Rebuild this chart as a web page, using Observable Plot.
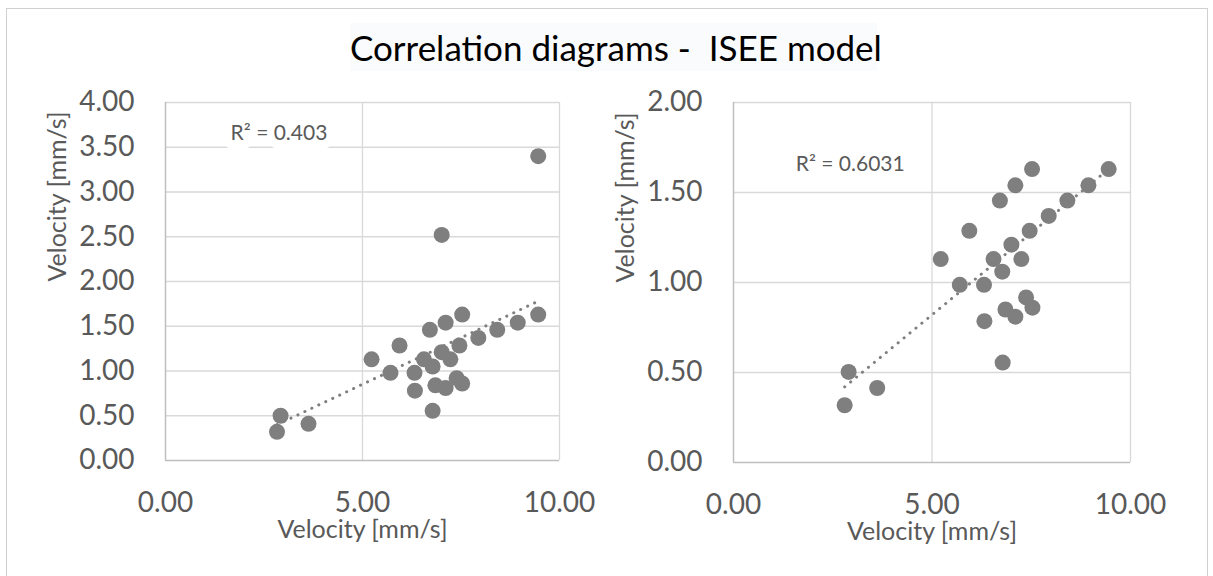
<!DOCTYPE html>
<html>
<head>
<meta charset="utf-8">
<script src="https://cdn.jsdelivr.net/npm/d3@7"></script>
<script src="https://cdn.jsdelivr.net/npm/@observablehq/plot@0.6"></script>
<style>
  html, body { margin: 0; padding: 0; background: #fff; overflow: hidden; }
  #wrap { position: relative; width: 1213px; height: 576px; font-family: Lato, "Open Sans", sans-serif; }
  #border { position: absolute; left: 6px; top: 8px; width: 1200px; height: 620px; border: 1px solid #d0d0d0; }
  #title { position: absolute; left: 350px; top: 23px; width: 527px; height: 48px; background: #fafbfc;
           text-align: center; line-height: 48px; font-size: 35px; color: #000; white-space: pre; }
  .panel { position: absolute; top: 0; }
</style>
</head>
<body>
<div id="wrap">
  <div id="border"></div>
  <div id="title">Correlation diagrams -  ISEE model</div>
  <div id="left" class="panel" style="left:0px"></div>
  <div id="right" class="panel" style="left:606px"></div>
</div>
<script>
// Velocity pairs for the full set (left panel)
const leftX = [9.46, 7.01, 7.53, 7.11, 6.71, 9.46, 8.94, 8.42, 7.94, 7.46, 5.94, 7.01, 7.23, 6.56,
               5.23, 6.78, 6.32, 5.71, 7.39, 7.53, 6.85, 7.11, 6.33, 6.78, 2.92, 2.83, 3.63];
const leftY = [3.40, 2.52, 1.63, 1.54, 1.46, 1.63, 1.54, 1.46, 1.37, 1.285, 1.285, 1.21, 1.13, 1.13,
               1.13, 1.05, 0.98, 0.98, 0.92, 0.86, 0.84, 0.81, 0.78, 0.555, 0.50, 0.32, 0.41];
// Trendline ends for the left panel
const leftTrendX = [2.83, 9.46];
const leftTrendY = [0.40, 1.78];

// Velocity pairs without the two high readings (right panel)
const rightX = [9.45, 7.52, 7.10, 8.94, 6.71, 8.41, 7.94, 5.94, 7.46, 7.00, 5.22, 6.55, 7.25,
                6.77, 5.70, 6.31, 7.37, 7.53, 6.85, 7.10, 6.32, 6.78, 2.90, 3.62, 2.80];
const rightY = [1.63, 1.63, 1.54, 1.54, 1.455, 1.455, 1.37, 1.287, 1.287, 1.21, 1.13, 1.13, 1.13,
                1.06, 0.987, 0.987, 0.917, 0.86, 0.85, 0.81, 0.785, 0.555, 0.503, 0.414, 0.318];
// Trendline ends for the right panel
const rightTrendX = [2.80, 9.45];
const rightTrendY = [0.42, 1.63];

const xTicks = [0, 5, 10];
const leftYTicks = [0, 0.5, 1, 1.5, 2, 2.5, 3, 3.5, 4];
const rightYTicks = [0, 0.5, 1, 1.5, 2];
const leftR2 = "R² = 0.403";
const rightR2 = "R² = 0.6031";
const axisTitle = "Velocity [mm/s]";

const font = "Lato, 'Open Sans', sans-serif";
const grid = "#d9d9d9";
const axisLine = "#bfbfbf";
const textColor = "#595959";
const pointColor = "#7f7f7f";
const fmt = d => d.toFixed(2);

function panel({xs, ys, tx, ty, yTicks, yMax, r2, r2x, r2y, width, margins}) {
  const data = xs.map((x, i) => ({x, y: ys[i]}));
  const trend = tx.map((x, i) => ({x, y: ty[i]}));
  return Plot.plot({
    width, height: 576,
    ...margins,
    style: {fontFamily: font, background: "transparent", overflow: "visible"},
    x: {domain: [0, 10]},
    y: {domain: [0, yMax]},
    marks: [
      Plot.ruleY(yTicks.filter(d => d > 0), {stroke: grid, strokeWidth: 1.3}),
      Plot.ruleX([5, 10], {stroke: grid, strokeWidth: 1.3}),
      Plot.ruleX([0], {stroke: axisLine, strokeWidth: 1.5}),
      Plot.ruleY([0], {stroke: axisLine, strokeWidth: 1.5}),
      Plot.axisY({ticks: yTicks, tickFormat: fmt, tickSize: 0, tickPadding: 31, label: null,
                  fontSize: 28, fill: textColor}),
      Plot.axisX({ticks: xTicks, tickFormat: fmt, tickSize: 0, tickPadding: 32, label: null,
                  fontSize: 28, fill: textColor}),
      Plot.text([axisTitle], {frameAnchor: "bottom", dy: 77, fontSize: 25, fill: textColor}),
      Plot.text([axisTitle], {frameAnchor: "left", dx: -108, rotate: -90, fontSize: 25, fill: textColor}),
      Plot.text([r2], {x: r2x, y: r2y, fontSize: 21, fill: textColor,
                       stroke: "white", strokeWidth: 18, paintOrder: "stroke"}),
      Plot.dot(data, {x: "x", y: "y", r: 8, fill: pointColor}),
      Plot.line(trend, {x: "x", y: "y", stroke: pointColor, strokeWidth: 3,
                        strokeDasharray: "0.1,7.6", strokeLinecap: "round"})
    ]
  });
}

document.getElementById("left").append(panel({
  xs: leftX, ys: leftY, tx: leftTrendX, ty: leftTrendY, yTicks: leftYTicks, yMax: 4,
  r2: leftR2, r2x: 2.88, r2y: 3.655,
  width: 600, margins: {marginLeft: 165, marginRight: 41, marginTop: 102, marginBottom: 116}
}));

document.getElementById("right").append(panel({
  xs: rightX, ys: rightY, tx: rightTrendX, ty: rightTrendY, yTicks: rightYTicks, yMax: 2,
  r2: rightR2, r2x: 2.94, r2y: 1.657,
  width: 607, margins: {marginLeft: 127, marginRight: 83, marginTop: 102, marginBottom: 114}
}));
</script>
</body>
</html>
